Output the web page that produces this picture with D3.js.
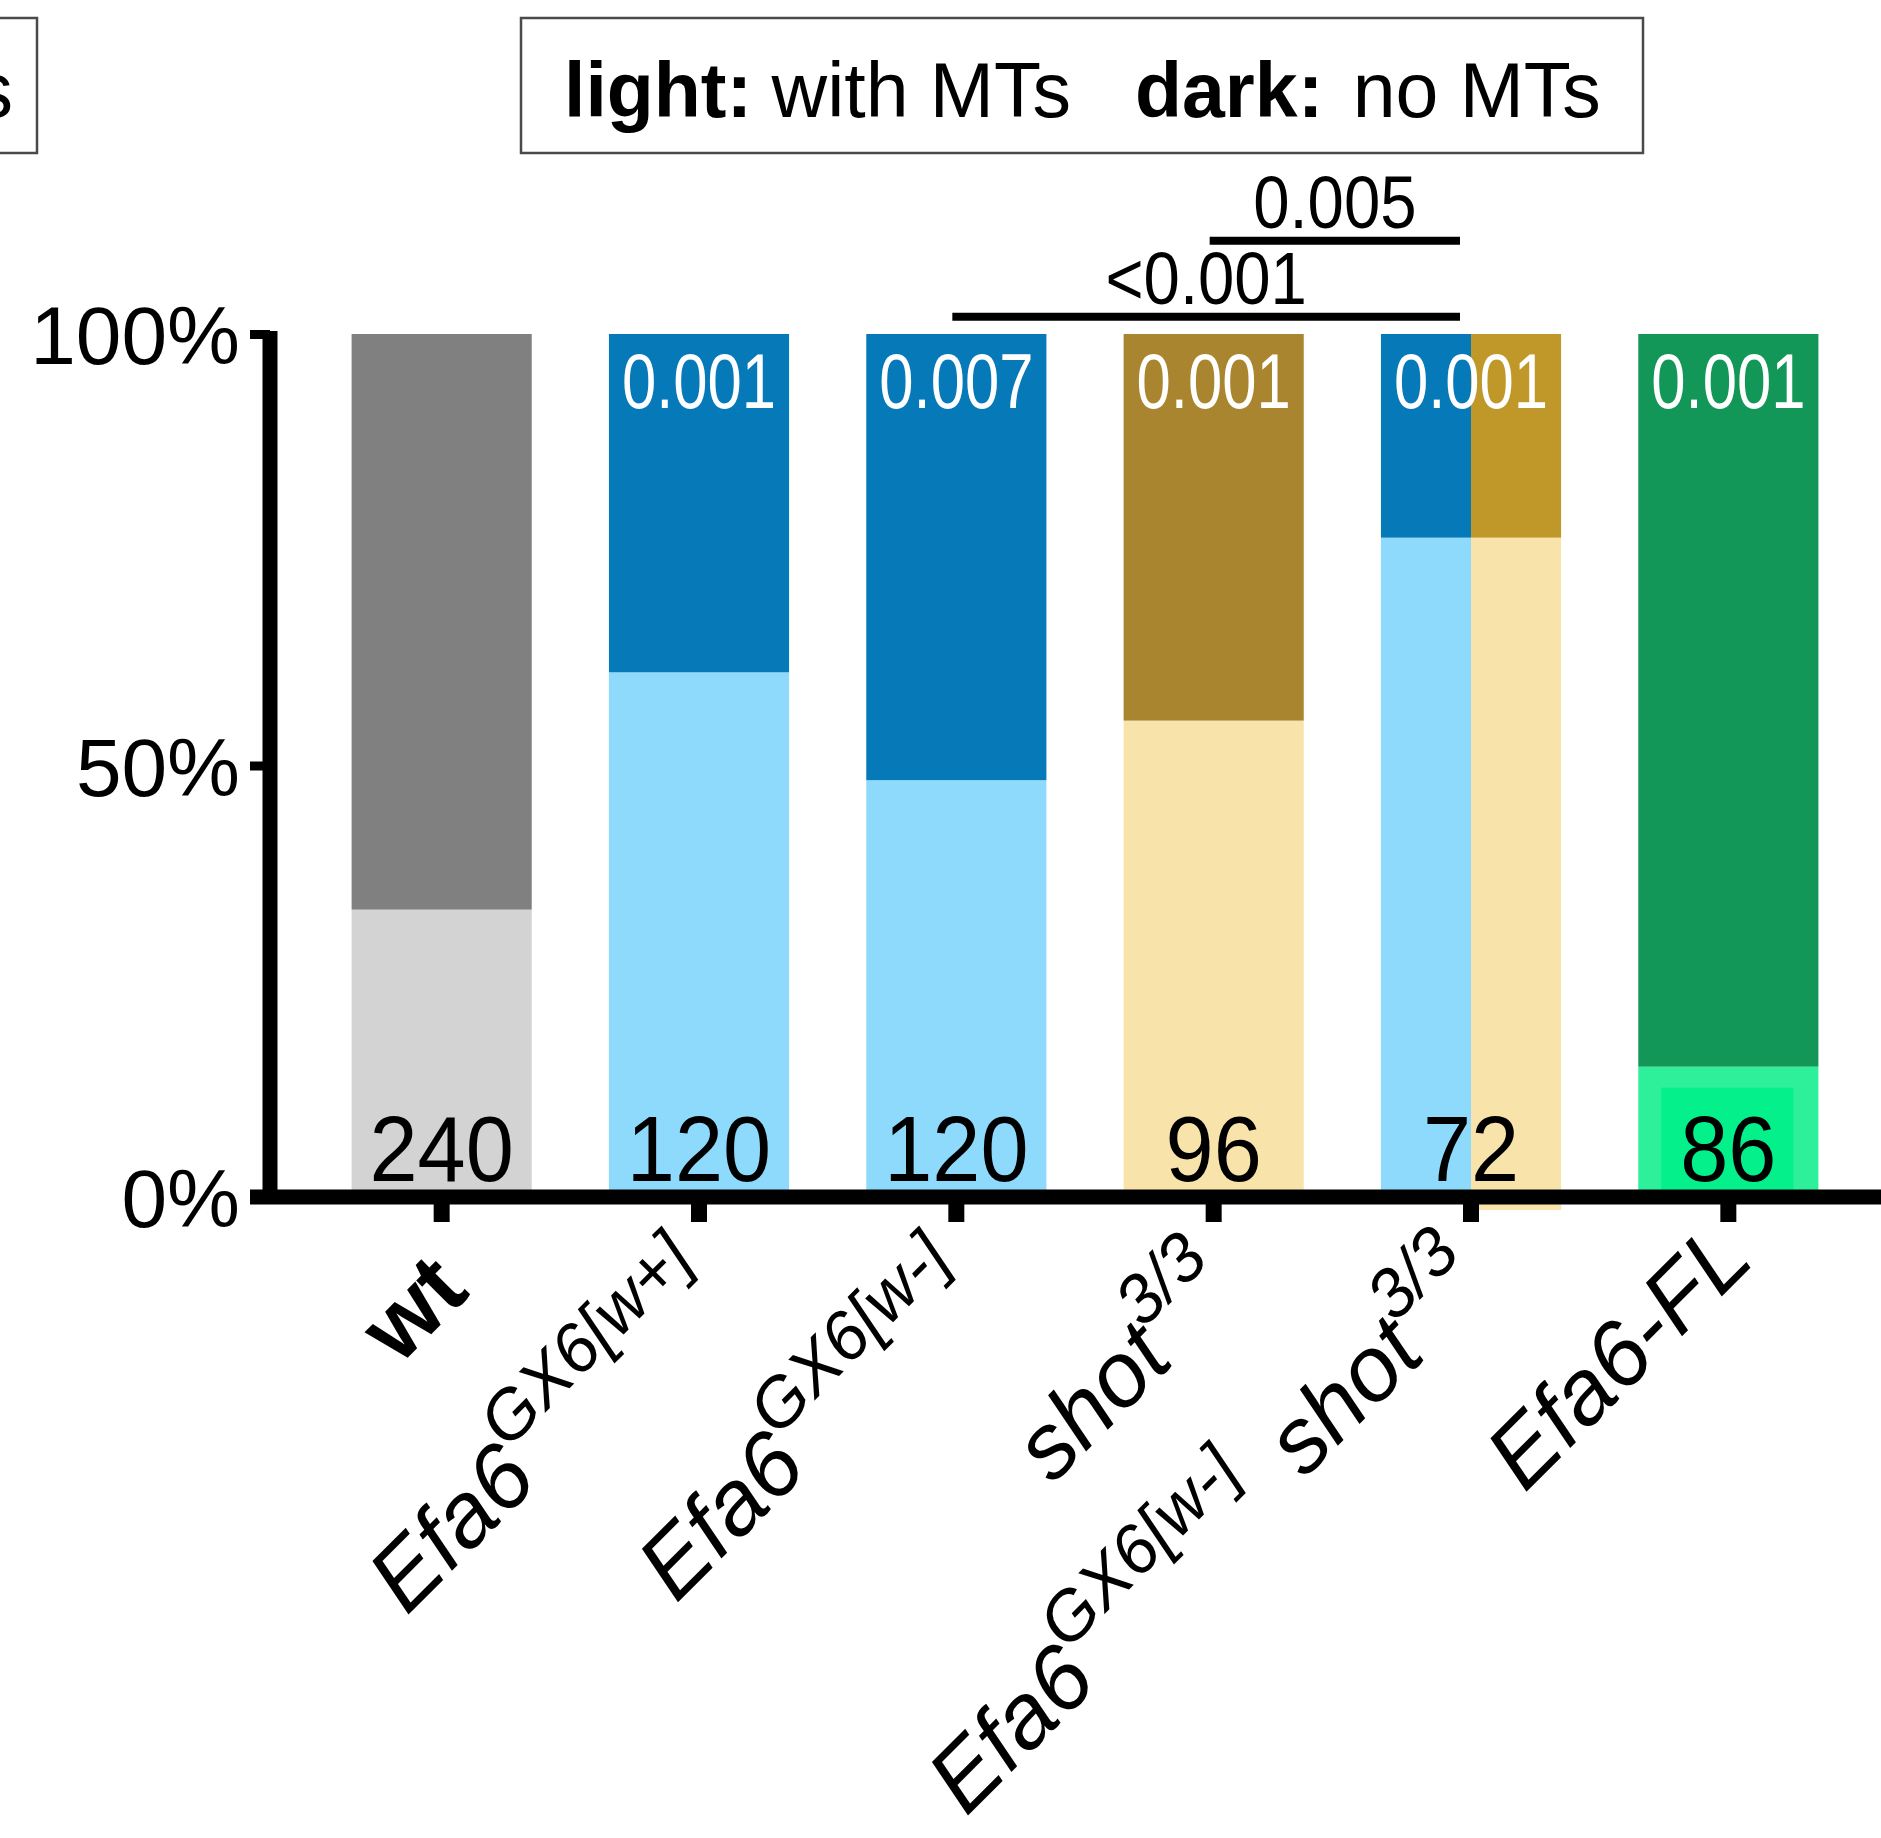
<!DOCTYPE html>
<html>
<head>
<meta charset="utf-8">
<script src="https://cdn.jsdelivr.net/npm/d3@7"></script>
<style>
  html, body { margin: 0; padding: 0; background: #ffffff; }
  svg { display: block; font-family: "Liberation Sans", Arial, Helvetica, sans-serif; }
</style>
</head>
<body>
<svg id="chart" width="1881" height="1838"></svg>
<script>
// Genotypes along the x axis
const categories = ["wt", "Efa6GX6[w+]", "Efa6GX6[w-]", "shot3/3", "Efa6GX6[w-] shot3/3", "Efa6-FL"];

// Percentage of axons with MTs (light part of each bar); the rest have none (dark part)
const withMTs = [33.3, 60.8, 48.3, 55.2, 76.4, 15.1];

// Number of axons analysed per genotype
const nCounts = [240, 120, 120, 96, 72, 86];

// p-values against wild type, printed at the top of each bar
const pVsWt = ["", "0.001", "0.007", "0.001", "0.001", "0.001"];

// Pairwise comparisons drawn as brackets above the bars
const compFrom = ["Efa6GX6[w-]", "shot3/3"];
const compTo = ["Efa6GX6[w-] shot3/3", "Efa6GX6[w-] shot3/3"];
const compP = ["<0.001", "0.005"];
const compLevel = [102, 110.8];

// Y axis ticks
const yTicks = [0, 50, 100];

// Colour schemes: one per bar half (the double mutant is split in two)
const grey = { light: "#d3d3d3", dark: "#808080" };
const blue = { light: "#8edafd", dark: "#0679b9" };
const ochre = { light: "#f8e3ab", dark: "#a9852f" };
const gold = { light: "#f8e3ab", dark: "#c0982a" };
const green = { light: "#2ef09a", dark: "#139759", inner: "#03f08a" };
const barSchemes = [[grey], [blue], [blue], [ochre], [blue, gold], [green]];

// Axis label pieces: [text, style] with style "b" bold, "i" italic, "sup" italic superscript, "gap" spacer
const labelParts = [
  [["wt", "b"]],
  [["Efa6", "i"], ["GX6[w+]", "sup"]],
  [["Efa6", "i"], ["GX6[w-]", "sup"]],
  [["shot", "i"], ["3/3", "sup"]],
  [["Efa6", "i"], ["GX6[w-]", "sup"], ["shot", "gap"], ["3/3", "sup"]],
  [["Efa6-FL", "i"]]
];
// Placement of each rotated label relative to its tick (along / across the text)
const labelAlong = [-30, -30, -30, -30, -30, -9];
const labelAcross = [72, 72, 72, 72, 64, 48];

const svg = d3.select("#chart");

const y0 = 1197, y100 = 334;
const y = d3.scaleLinear().domain([0, 100]).range([y0, y100]);
const x = d3.scaleBand().domain(categories).range([313, 1857]).paddingInner(0.3).paddingOuter(0.15);
const bw = x.bandwidth();

// Stacked table: light = with MTs, dark = no MTs
const table = categories.map((c, i) => ({ cat: c, light: withMTs[i], dark: 100 - withMTs[i], i }));
const stacked = d3.stack().keys(["light", "dark"])(table);

// ---- bars ----
const barsG = svg.append("g");
stacked.forEach(layer => {
  layer.forEach(seg => {
    const i = seg.data.i;
    const schemes = barSchemes[i];
    const hw = bw / schemes.length;
    schemes.forEach((sc, h) => {
      const bx = x(categories[i]) + h * hw;
      const extra = (layer.key === "light" && schemes.length > 1 && h === 1) ? 13 : 0;
      barsG.append("rect")
        .attr("x", bx)
        .attr("y", y(seg[1]))
        .attr("width", hw)
        .attr("height", y(seg[0]) - y(seg[1]) + extra)
        .attr("fill", sc[layer.key]);
      if (layer.key === "light" && sc.inner) {
        barsG.append("rect")
          .attr("x", bx + 23)
          .attr("y", y(seg[1]) + 21)
          .attr("width", hw - 48)
          .attr("height", y(seg[0]) - y(seg[1]) - 21)
          .attr("fill", sc.inner);
      }
    });
  });
});

// condensed text helper
function condensed(g, tx, ty, str, size, sx, fill, anchor) {
  return g.append("text")
    .attr("transform", `translate(${tx},${ty}) scale(${sx},1)`)
    .attr("text-anchor", anchor || "middle")
    .attr("font-size", size)
    .attr("fill", fill)
    .text(str);
}

// p-values at top of bars, sample sizes at the bottom
const labG = svg.append("g");
categories.forEach((c, i) => {
  if (pVsWt[i]) condensed(labG, x(c) + bw / 2, 408, pVsWt[i], 77, 0.8, "#ffffff");
  condensed(labG, x(c) + bw / 2, 1181, String(nCounts[i]), 92, 0.94, "#000000");
});

// ---- axes ----
const yAxis = d3.axisLeft(y).tickValues(yTicks).tickFormat(d => d + "%").tickSize(20).tickPadding(12);
const yAxisG = svg.append("g").attr("transform", "translate(270,0)").call(yAxis);
yAxisG.select(".domain").remove();
yAxisG.selectAll(".tick line").attr("stroke", "#000").attr("stroke-width", 9);
yAxisG.selectAll(".tick text")
  .attr("font-size", 82)
  .attr("font-family", "Liberation Sans, Arial, sans-serif")
  .attr("fill", "#000")
  .attr("x", -30)
  .attr("dy", "0.36em");
svg.append("line")
  .attr("x1", 270).attr("x2", 270)
  .attr("y1", y(100) - 3).attr("y2", y(0) + 7)
  .attr("stroke", "#000").attr("stroke-width", 15);

const xAxis = d3.axisBottom(x).tickSize(25).tickFormat(() => "");
const xAxisG = svg.append("g").attr("transform", `translate(0,${y0})`).call(xAxis);
xAxisG.select(".domain").remove();
xAxisG.selectAll(".tick line").attr("stroke", "#000").attr("stroke-width", 16);
svg.append("line")
  .attr("x1", 250).attr("x2", 1881)
  .attr("y1", y0).attr("y2", y0)
  .attr("stroke", "#000").attr("stroke-width", 15);

// rotated category labels with superscripts
const tickBottom = y0 + 25;
categories.forEach((c, i) => {
  const t = svg.append("text")
    .attr("transform", `translate(${x(c) + bw / 2},${tickBottom}) rotate(-45)`)
    .attr("x", labelAlong[i])
    .attr("y", labelAcross[i])
    .attr("text-anchor", "end")
    .attr("font-size", 92)
    .attr("fill", "#000");
  let raised = false;
  labelParts[i].forEach(([str, style]) => {
    const ts = t.append("tspan").text(str);
    if (style === "b") ts.attr("font-weight", "bold");
    if (style === "i" || style === "gap") ts.attr("font-style", "italic");
    if (style === "sup") {
      ts.attr("font-style", "italic").attr("font-size", 69).attr("dy", -46);
      raised = true;
    } else if (raised) {
      ts.attr("dy", 46);
      raised = false;
    }
    if (style === "gap") ts.attr("dx", 40);
  });
});

// ---- comparison brackets ----
compFrom.forEach((a, k) => {
  const xa = x(a) + bw / 2 - 4;
  const xb = x(compTo[k]) + bw / 2 - 11;
  const ly = y(compLevel[k]);
  svg.append("line")
    .attr("x1", xa).attr("x2", xb)
    .attr("y1", ly).attr("y2", ly)
    .attr("stroke", "#000").attr("stroke-width", 8);
  condensed(svg, (xa + xb) / 2, ly - 13, compP[k], 75, 0.87, "#000");
});

// ---- legend ----
const leg = svg.append("g");
leg.append("rect")
  .attr("x", 521).attr("y", 18).attr("width", 1122).attr("height", 135)
  .attr("fill", "none").attr("stroke", "#4a4a4a").attr("stroke-width", 2.5);
const l1 = leg.append("text").attr("x", 564).attr("y", 117).attr("font-size", 77).attr("fill", "#000");
l1.append("tspan").attr("font-weight", "bold").text("light:");
l1.append("tspan").attr("dx", -2).text(" with MTs");
const l2 = leg.append("text").attr("x", 1135).attr("y", 117).attr("font-size", 77).attr("fill", "#000");
l2.append("tspan").attr("font-weight", "bold").text("dark:");
l2.append("tspan").attr("dx", 8).text(" no MTs");

// edge of the neighbouring panel's key box
leg.append("rect")
  .attr("x", -10).attr("y", 18).attr("width", 47).attr("height", 135)
  .attr("fill", "none").attr("stroke", "#4a4a4a").attr("stroke-width", 2.5);
leg.append("text").attr("x", 13).attr("y", 117).attr("text-anchor", "end")
  .attr("font-size", 77).attr("fill", "#000").text("s");
</script>
</body>
</html>
